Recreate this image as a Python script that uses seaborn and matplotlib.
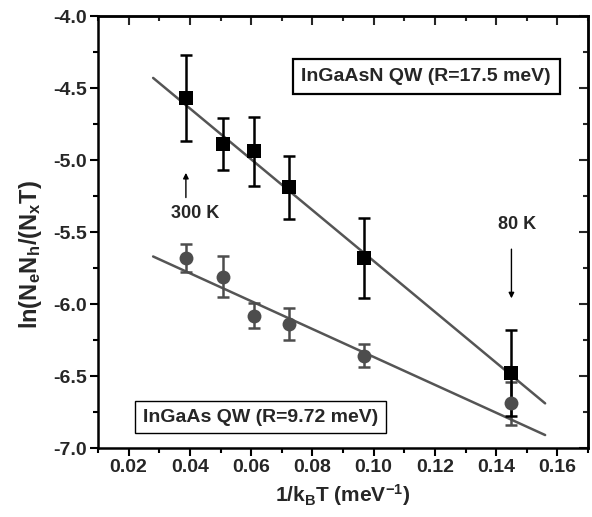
import matplotlib
matplotlib.use("Agg")
import matplotlib.pyplot as plt
import seaborn as sns
import numpy as np
import pandas as pd
from matplotlib.ticker import MultipleLocator

sns.set_theme(style="white")
plt.rcParams['font.family'] = ['Liberation Sans', 'DejaVu Sans']
plt.rcParams['mathtext.fontset'] = 'custom'
plt.rcParams['mathtext.rm'] = 'Liberation Sans:bold'
plt.rcParams['mathtext.it'] = 'Liberation Sans:bold'
plt.rcParams['mathtext.bf'] = 'Liberation Sans:bold'

# data
inv_kT = [0.0387, 0.0507, 0.0611, 0.0725, 0.0970, 0.1450]
ingaasn_y = [-4.57, -4.89, -4.94, -5.19, -5.68, -6.48]
ingaasn_err = [0.30, 0.18, 0.24, 0.22, 0.28, 0.30]
ingaas_y = [-5.68, -5.81, -6.08, -6.14, -6.36, -6.69]
ingaas_err = [0.10, 0.14, 0.09, 0.11, 0.08, 0.15]
fit_x = [0.028, 0.156]
fit_ingaasn = [-4.43, -6.69]
fit_ingaas = [-5.67, -6.91]
xticks = [0.02, 0.04, 0.06, 0.08, 0.10, 0.12, 0.14, 0.16]
yticks = [-7.0, -6.5, -6.0, -5.5, -5.0, -4.5, -4.0]

df_sq = pd.DataFrame({"x": inv_kT, "y": ingaasn_y})
df_ci = pd.DataFrame({"x": inv_kT, "y": ingaas_y})
df_fit = pd.DataFrame({"x": fit_x, "sq": fit_ingaasn, "ci": fit_ingaas})

fig = plt.figure(figsize=(5.92, 5.17), dpi=100)
ax = fig.add_axes([98/592, 1-448/517, (588-98)/592, (448-16)/517])

line_c = "#555555"
circ_c = "#4d4d4d"

sns.lineplot(data=df_fit, x="x", y="sq", ax=ax, color=line_c, lw=1.8, zorder=2)
sns.lineplot(data=df_fit, x="x", y="ci", ax=ax, color=line_c, lw=1.8, zorder=2)

ax.errorbar(inv_kT, ingaas_y, yerr=ingaas_err, fmt="none", ecolor=circ_c,
            elinewidth=1.8, capsize=4.5, capthick=1.8, zorder=3)
ax.errorbar(inv_kT, ingaasn_y, yerr=ingaasn_err, fmt="none", ecolor="black",
            elinewidth=1.8, capsize=4.5, capthick=1.8, zorder=4)

sns.scatterplot(data=df_ci, x="x", y="y", ax=ax, marker="o", s=100,
                color=circ_c, edgecolor=circ_c, linewidth=0, zorder=5)
sns.scatterplot(data=df_sq, x="x", y="y", ax=ax, marker="s", s=95,
                color="black", edgecolor="black", linewidth=0, zorder=6)

ax.set_xlim(0.01, 0.17)
ax.set_ylim(-7.0, -4.0)
ax.set_xticks(xticks)
ax.set_xticklabels([f"{v:.2f}" for v in xticks])
ax.set_yticks(yticks)
ax.set_yticklabels([f"{v:.1f}" for v in yticks])
ax.xaxis.set_minor_locator(MultipleLocator(0.01))
ax.yaxis.set_minor_locator(MultipleLocator(0.25))

for s in ax.spines.values():
    s.set_linewidth(1.8)
    s.set_color("black")

ax.tick_params(which="both", direction="out", width=1.5, color="black",
               labelsize=14, bottom=True, left=True, top=False, right=False,
               pad=2)
ax.tick_params(which="major", length=6)
ax.tick_params(which="minor", length=3.5)
for lab in ax.get_xticklabels() + ax.get_yticklabels():
    lab.set_fontweight("bold")

secx = ax.secondary_xaxis("top")
secx.set_xticks(xticks)
secx.xaxis.set_minor_locator(MultipleLocator(0.01))
secx.tick_params(which="both", direction="in", width=1.5, labeltop=False)
secx.tick_params(which="major", length=6.5)
secx.tick_params(which="minor", length=3.5)
secy = ax.secondary_yaxis("right")
secy.set_yticks(yticks)
secy.yaxis.set_minor_locator(MultipleLocator(0.25))
secy.tick_params(which="both", direction="in", width=1.5, labelright=False)
secy.tick_params(which="major", length=6.5)
secy.tick_params(which="minor", length=3.5)
for sa in (secx, secy):
    for s in sa.spines.values():
        s.set_linewidth(1.8)

ax.set_xlabel(r"1/k$_\mathregular{B}$T (meV$^{\mathregular{-1}}$)", fontsize=15,
              fontweight="bold", labelpad=4)
ax.set_ylabel(r"ln(N$_\mathregular{e}$N$_\mathregular{h}$/(N$_\mathregular{x}$T)",
              fontsize=17, fontweight="bold")
ax.yaxis.set_label_coords(-0.11, 0.447)

ax.text(0.1172, -4.42, "InGaAsN QW (R=17.5 meV)", fontsize=14, fontweight="bold",
        ha="center", va="center",
        bbox=dict(boxstyle="square,pad=0.45", fc="white", ec="black", lw=1.6))
ax.text(0.0631, -6.785, "InGaAs QW (R=9.72 meV)", fontsize=14, fontweight="bold",
        ha="center", va="center",
        bbox=dict(boxstyle="square,pad=0.4", fc="white", ec="black", lw=1.0))

ax.annotate("", xy=(0.0387, -5.07), xytext=(0.0387, -5.28),
            arrowprops=dict(arrowstyle="-|>", color="black", lw=1.0,
                            mutation_scale=8))
ax.text(0.0416, -5.37, "300 K", fontsize=13, fontweight="bold", ha="center", va="center")
ax.annotate("", xy=(0.145, -5.98), xytext=(0.145, -5.6),
            arrowprops=dict(arrowstyle="-|>", color="black", lw=1.0,
                            mutation_scale=8))
ax.text(0.1468, -5.45, "80 K", fontsize=13, fontweight="bold", ha="center", va="center")

fig.savefig("out.png", dpi=100)
